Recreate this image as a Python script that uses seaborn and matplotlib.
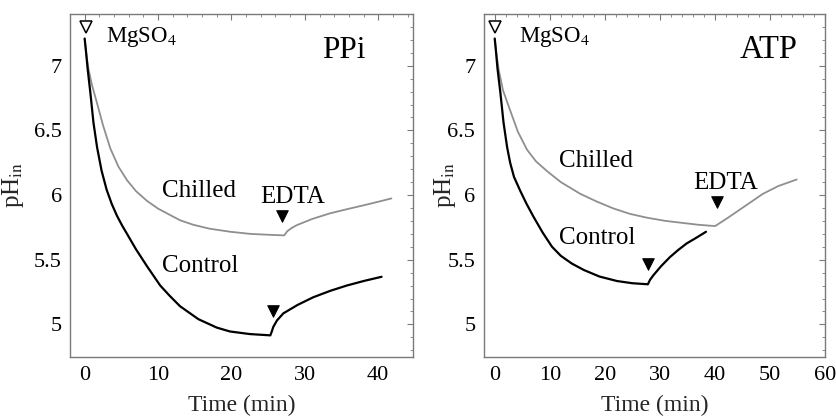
import numpy as np
import pandas as pd
import matplotlib
matplotlib.use("Agg")
import matplotlib.pyplot as plt
from matplotlib.ticker import MultipleLocator
import seaborn as sns

# ---------------- data ----------------
ppi_control_t = [0, 0.2, 0.4, 0.78, 1.2, 1.69, 2.3, 3.0, 3.7, 4.4, 5.1, 5.77, 7.0, 8.49, 10.3, 11.6, 13.0,
                 15.5, 18.0, 19.8, 22.5, 25.3, 25.5, 25.7, 26.2, 27.07, 29.0, 31.16, 33.5, 35.7, 38.0, 40.46]
ppi_control_ph = [7.21, 7.10, 6.98, 6.79, 6.56, 6.37, 6.19, 6.04, 5.93, 5.84, 5.765, 5.70, 5.58, 5.45, 5.30,
                  5.22, 5.14, 5.04, 4.975, 4.945, 4.925, 4.915, 4.945, 4.98, 5.03, 5.085, 5.15, 5.21, 5.26,
                  5.30, 5.335, 5.368]

ppi_chilled_t = [0, 0.25, 0.54, 1.0, 1.69, 2.5, 3.5, 4.6, 5.77, 7.0, 8.49, 10.0, 11.66, 13.0, 14.8, 17.0,
                 19.85, 22.5, 25.0, 27.2, 27.6, 28.2, 28.9, 31.0, 33.4, 35.7, 37.96, 40.0, 41.8]
ppi_chilled_ph = [7.21, 7.08, 6.97, 6.85, 6.71, 6.54, 6.36, 6.22, 6.115, 6.03, 5.955, 5.895, 5.845, 5.805,
                  5.77, 5.74, 5.716, 5.70, 5.693, 5.688, 5.72, 5.745, 5.767, 5.815, 5.858, 5.89, 5.92, 5.948,
                  5.974]

atp_control_t = [0, 0.25, 0.5, 1.03, 1.6, 2.25, 2.8, 3.5, 4.66, 5.8, 7.07, 8.7, 10.4, 12.0, 14.0, 16.2, 19.0,
                 22.2, 25.0, 27.8, 28.2, 28.8, 30.2, 31.8, 33.3, 34.85, 36.6, 38.35]
atp_control_ph = [7.21, 7.10, 6.98, 6.79, 6.56, 6.37, 6.25, 6.14, 6.03, 5.93, 5.83, 5.71, 5.60, 5.53,
                  5.47, 5.42, 5.37, 5.335, 5.318, 5.31, 5.345, 5.38, 5.45, 5.52, 5.575, 5.626, 5.67, 5.716]

atp_chilled_t = [0, 0.35, 0.72, 1.5, 2.84, 4.2, 5.87, 7.5, 9.5, 12.0, 15.5, 18.5, 21.56, 24.5, 27.6, 31.0,
                 34.0, 37.0, 40.0, 42.0, 43.9, 46.3, 48.7, 51.5, 54.8]
atp_chilled_ph = [7.21, 7.08, 6.97, 6.81, 6.65, 6.49, 6.35, 6.26, 6.185, 6.10, 6.01, 5.95, 5.896, 5.855,
                  5.825, 5.80, 5.785, 5.77, 5.76, 5.815, 5.87, 5.94, 6.01, 6.07, 6.12]

# marker positions (time, pH)
ppi_mg_mark = (0.2, 7.30)
ppi_edta_t = [26.9, 25.6]
ppi_edta_ph = [5.835, 5.10]
atp_mg_mark = (0.1, 7.30)
atp_edta_t = [40.3, 27.9]
atp_edta_ph = [5.95, 5.47]

panel_names = ["PPi", "ATP"]
x_ticks = [[0, 10, 20, 30, 40], [0, 10, 20, 30, 40, 50, 60]]
x_limits = [(-2, 44.7), (-2, 60)]
y_ticks = [5, 5.5, 6, 6.5, 7]
y_tick_labels = ["5", "5.5", "6", "6.5", "7"]

# text annotation positions (time, pH)
ppi_labels = {"Chilled": (10.6, 6.03), "Control": (10.6, 5.45), "EDTA": (28.4, 5.985),
              "MgSO$_4$": (2.95, 7.22), "PPi": (32.3, 7.12)}
atp_labels = {"Chilled": (11.6, 6.26), "Control": (11.6, 5.665), "EDTA": (41.9, 6.095),
              "MgSO$_4$": (4.35, 7.22), "ATP": (44.5, 7.12)}
ylabel_x = [-0.128, -0.075]

# ---------------- style ----------------
sns.set_theme(style="white")
plt.rcParams["font.family"] = ["Liberation Serif", "DejaVu Serif"]
plt.rcParams["mathtext.fontset"] = "stix"

FRAME = "#7a7a7a"
GRAY = "#8f8f8f"

fig = plt.figure(figsize=(8.37, 4.19), dpi=100)
ax1 = fig.add_axes([0.0836, 0.1487, 0.4095, 0.8179])
ax2 = fig.add_axes([0.5779, 0.1487, 0.4081, 0.8179])

panels = [
    (ax1, ppi_control_t, ppi_control_ph, ppi_chilled_t, ppi_chilled_ph, ppi_mg_mark,
     ppi_edta_t, ppi_edta_ph, ppi_labels),
    (ax2, atp_control_t, atp_control_ph, atp_chilled_t, atp_chilled_ph, atp_mg_mark,
     atp_edta_t, atp_edta_ph, atp_labels),
]

for i, (ax, ct, cp, ht, hp, mg, et, ep, labels) in enumerate(panels):
    dfc = pd.DataFrame({"t": ct, "ph": cp})
    dfh = pd.DataFrame({"t": ht, "ph": hp})
    sns.lineplot(data=dfh, x="t", y="ph", ax=ax, color=GRAY, lw=1.3, sort=False)
    sns.lineplot(data=dfc, x="t", y="ph", ax=ax, color="black", lw=1.6, sort=False)
    ax.plot([mg[0]], [mg[1]], marker="v", ms=9, mfc="white", mec="black", mew=1.1,
            ls="none", clip_on=False)
    sns.scatterplot(x=et, y=ep, ax=ax, marker="v", s=70, color="black", edgecolor="black")

    for txt, (tx, ty) in labels.items():
        if txt == "PPi":
            fs = 22.5
        elif txt == "ATP":
            fs = 23.5
        elif txt.startswith("Mg"):
            fs = 16.5
        else:
            fs = 18
        ha = "center" if txt == "EDTA" else "left"
        ax.text(tx, ty, txt, fontsize=fs, ha=ha, va="center", color="black")

    ax.set_xlim(*x_limits[i])
    ax.set_ylim(4.75, 7.4)
    ax.set_xticks(x_ticks[i])
    ax.set_yticks(y_ticks)
    ax.set_yticklabels(y_tick_labels)
    ax.xaxis.set_minor_locator(MultipleLocator(2))
    ax.yaxis.set_minor_locator(MultipleLocator(0.1))
    ax.tick_params(which="both", direction="in", top=True, right=True, color=FRAME,
                   labelsize=16, labelcolor="black")
    ax.tick_params(which="major", length=4, width=0.8)
    ax.tick_params(which="minor", length=2, width=0.6)
    ax.tick_params(axis="y", pad=6)
    ax.tick_params(axis="x", pad=7)
    for sp in ax.spines.values():
        sp.set_color(FRAME)
        sp.set_linewidth(1.0)
    ax.set_xlabel("Time (min)", fontsize=17, labelpad=7)
    ax.set_ylabel("pH$_{\\rm in}$", fontsize=18)
    ax.yaxis.set_label_coords(ylabel_x[i], 0.5)
    ax.set_facecolor("white")

fig.savefig("out.png", dpi=100, facecolor="white")
